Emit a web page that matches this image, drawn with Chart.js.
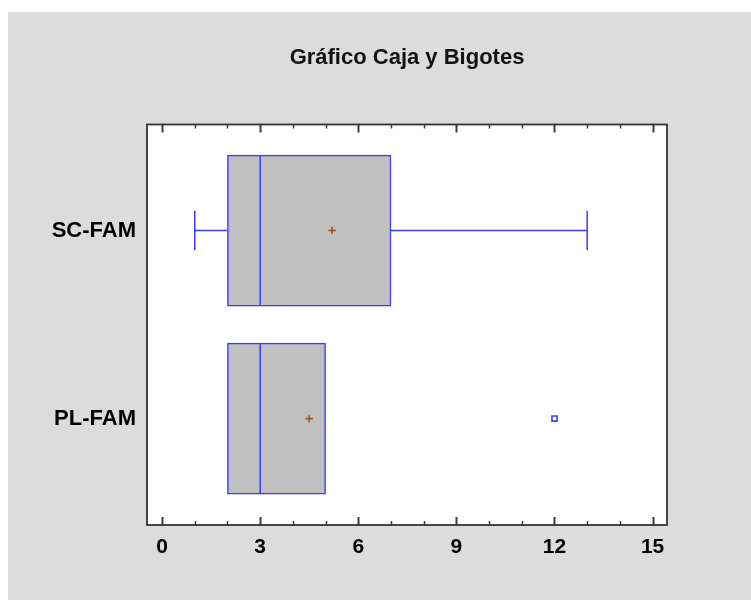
<!DOCTYPE html>
<html>
<head>
<meta charset="utf-8">
<script src="https://cdn.jsdelivr.net/npm/chart.js@4.4.1/dist/chart.umd.min.js"></script>
<style>
  html, body { margin: 0; padding: 0; background: #fff; }
  #panel { position: absolute; left: 8px; top: 12px; width: 743px; height: 588px; background: #dcdcdc; }
  #boxChart { display: block; }
</style>
</head>
<body>
<div id="panel"><canvas id="boxChart" width="743" height="588"></canvas></div>
<script>
// groups from bottom (0) to top (1)
const groups = ['PL-FAM', 'SC-FAM'];
const lowWhisker = [2, 1];
const q1 = [2, 2];
const median = [3, 3];
const q3 = [5, 7];
const highWhisker = [5, 13];
const means = [4.5, 5.2];
const outliers = [[12], []];
const xTicks = [0, 3, 6, 9, 12, 15];

const blue = '#3a3aff';
const ctx = document.getElementById('boxChart').getContext('2d');

function segment(x1, y1, x2, y2) {
  return {
    type: 'scatter',
    showLine: true,
    data: [{ x: x1, y: y1 }, { x: x2, y: y2 }],
    borderColor: blue,
    borderWidth: 1.5,
    pointRadius: 0,
    order: 5
  };
}

const lineSets = [];
groups.forEach((g, i) => {
  lineSets.push(segment(median[i], i - 0.4, median[i], i + 0.4));
  if (lowWhisker[i] < q1[i]) {
    lineSets.push(segment(lowWhisker[i], i, q1[i], i));
    lineSets.push(segment(lowWhisker[i], i - 0.105, lowWhisker[i], i + 0.105));
  }
  if (highWhisker[i] > q3[i]) {
    lineSets.push(segment(q3[i], i, highWhisker[i], i));
    lineSets.push(segment(highWhisker[i], i - 0.105, highWhisker[i], i + 0.105));
  }
});

const outlierPoints = [];
outliers.forEach((list, i) => list.forEach(v => outlierPoints.push({ x: v, y: i })));

const framePlugin = {
  id: 'frame',
  beforeDatasetsDraw(chart) {
    const a = chart.chartArea;
    const c = chart.ctx;
    c.save();
    c.fillStyle = '#ffffff';
    c.fillRect(a.left, a.top, a.right - a.left, a.bottom - a.top);
    c.restore();
  },
  afterDraw(chart) {
    const a = chart.chartArea;
    const c = chart.ctx;
    const x = chart.scales.x;
    c.save();
    c.strokeStyle = '#3c3c3c';
    for (let v = 0; v <= 15; v++) {
      const px = Math.round(x.getPixelForValue(v)) + 0.5;
      const major = v % 3 === 0;
      const len = major ? 8 : 4;
      c.lineWidth = major ? 2 : 1.5;
      c.beginPath();
      c.moveTo(px, a.bottom);
      c.lineTo(px, a.bottom - len);
      c.moveTo(px, a.top);
      c.lineTo(px, a.top + len);
      c.stroke();
    }
    c.lineWidth = 1.8;
    c.strokeStyle = '#333';
    c.strokeRect(a.left, a.top, a.right - a.left, a.bottom - a.top);
    c.restore();
  }
};

new Chart(ctx, {
  type: 'scatter',
  data: {
    datasets: [
      {
        type: 'bar',
        indexAxis: 'y',
        data: groups.map((g, i) => ({ x: [q1[i], q3[i]], y: i })),
        backgroundColor: '#c0c0c0',
        borderColor: blue,
        borderWidth: 1.5,
        borderSkipped: false,
        barThickness: 151,
        order: 10
      },
      ...lineSets,
      {
        data: groups.map((g, i) => ({ x: means[i], y: i })),
        pointStyle: 'cross',
        pointRadius: 3.8,
        borderColor: '#a8501a',
        borderWidth: 1.6,
        order: 1
      },
      {
        data: outlierPoints,
        pointStyle: 'rect',
        pointRadius: 3.6,
        borderColor: blue,
        backgroundColor: '#ffffff',
        borderWidth: 1.6,
        order: 1
      }
    ]
  },
  options: {
    responsive: false,
    animation: false,
    events: [],
    layout: { padding: { left: 0, right: 84, top: 0, bottom: 0 } },
    plugins: {
      legend: { display: false },
      tooltip: { enabled: false },
      title: {
        display: true,
        fullSize: false,
        text: 'Gráfico Caja y Bigotes',
        color: '#111',
        font: { family: 'Liberation Sans, Arial, sans-serif', size: 22, weight: 'bold', lineHeight: 1.2 },
        padding: { top: 32.5, bottom: 53.6 }
      }
    },
    scales: {
      x: {
        type: 'linear',
        min: -0.46,
        max: 15.44,
        offset: false,
        grid: { display: false },
        border: { display: false },
        afterBuildTicks: s => { s.ticks = xTicks.map(v => ({ value: v })); },
        afterFit: s => { s.height = 75; },
        ticks: {
          color: '#000',
          padding: 2,
          font: { family: 'Liberation Sans, Arial, sans-serif', size: 21, weight: 'bold' }
        }
      },
      y: {
        type: 'linear',
        min: -0.566,
        max: 1.564,
        offset: false,
        grid: { display: false },
        border: { display: false },
        afterBuildTicks: s => { s.ticks = groups.map((g, i) => ({ value: i })); },
        afterFit: s => { s.width = 139; },
        ticks: {
          color: '#000',
          padding: 3,
          callback: v => groups[v],
          font: { family: 'Liberation Sans, Arial, sans-serif', size: 22, weight: 'bold' }
        }
      }
    }
  },
  plugins: [framePlugin]
});
</script>
</body>
</html>
